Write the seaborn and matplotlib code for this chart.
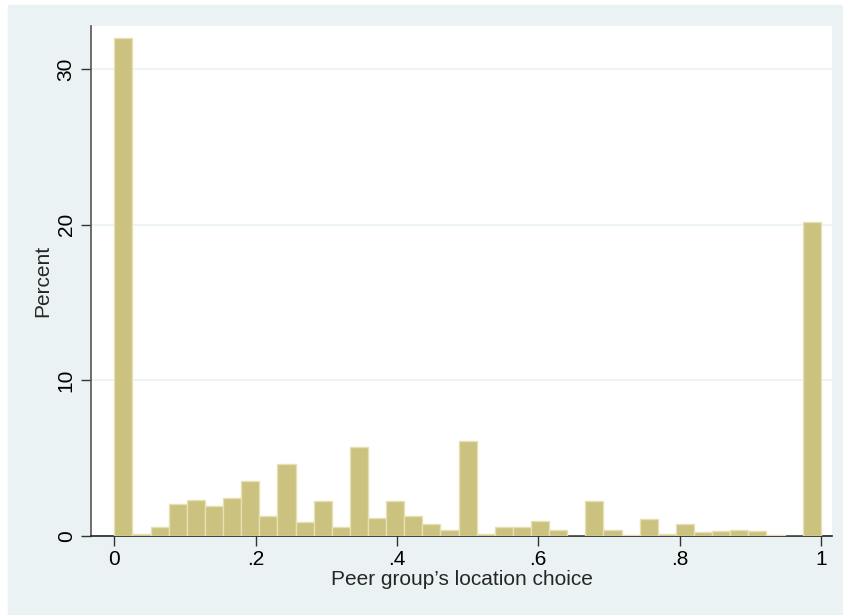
import numpy as np
import pandas as pd
import matplotlib
matplotlib.use("Agg")
import matplotlib.pyplot as plt
import seaborn as sns

# percent of observations in each of 39 equal-width bins on [0, 1]
percent = [32.0, 0.1, 0.56, 2.06, 2.31, 1.9, 2.44, 3.51, 1.26, 4.62,
           0.88, 2.23, 0.58, 5.74, 1.16, 2.27, 1.31, 0.79, 0.4, 6.12,
           0.11, 0.6, 0.58, 0.94, 0.36, 0.0, 2.23, 0.36, 0.06, 1.11,
           0.11, 0.79, 0.28, 0.33, 0.37, 0.31, 0.07, 0.0, 20.15]
n_bins = len(percent)
edges = np.linspace(0, 1, n_bins + 1)
centers = (edges[:-1] + edges[1:]) / 2
df = pd.DataFrame({"share": centers, "pct": percent})

x_ticks = [0, 0.2, 0.4, 0.6, 0.8, 1.0]
x_tick_labels = ["0", ".2", ".4", ".6", ".8", "1"]
y_ticks = [0, 10, 20, 30]

bg = "#EAF2F3"
bar_fill = "#CAC27E"
bar_edge = "#E6E0B4"

sns.set_style("white")
plt.rcParams["font.family"] = ["Liberation Sans", "DejaVu Sans"]

fig = plt.figure(figsize=(8.43, 6.15), dpi=100, facecolor="white")
# light blue-grey graph region (top and left edges trimmed in the source)
fig.patches.append(plt.Rectangle((8 / 843, 0), 1, 1 - 5 / 615,
                                 transform=fig.transFigure, color=bg, zorder=-10))
ax = fig.add_axes([91 / 843, 1 - 536 / 615, (832 - 91) / 843, (536 - 26) / 615])
ax.set_facecolor("white")

sns.histplot(data=df, x="share", weights="pct", bins=n_bins, binrange=(0, 1),
             stat="count", color=bar_fill, edgecolor=bar_edge, linewidth=1.0,
             alpha=1, ax=ax, zorder=3)

ax.set_xlim(-0.0331, 1.0158)
ax.set_ylim(0, 32.76)
ax.set_xticks(x_ticks)
ax.set_xticklabels(x_tick_labels)
ax.set_yticks(y_ticks)
ax.set_yticklabels([str(v) for v in y_ticks], rotation=90, va="center")

ax.yaxis.grid(True, color=bg, linewidth=1.2, zorder=0)
ax.set_axisbelow(True)

for side in ["top", "right"]:
    ax.spines[side].set_visible(False)
ax.spines["left"].set_color("#555555")
ax.spines["left"].set_linewidth(1.2)
ax.spines["bottom"].set_color("#222222")
ax.spines["bottom"].set_linewidth(1.2)

ax.tick_params(axis="both", direction="out", length=7, width=1.0,
               color="#333333", labelsize=15, labelcolor="black")
ax.tick_params(axis="x", bottom=True, pad=3)
ax.tick_params(axis="y", left=True, pad=4)

ax.set_xlabel("Peer group\u2019s location choice", fontsize=15, labelpad=1)
ax.set_ylabel("Percent", fontsize=15, labelpad=3)

fig.savefig("out.png", dpi=100, facecolor=fig.get_facecolor())
